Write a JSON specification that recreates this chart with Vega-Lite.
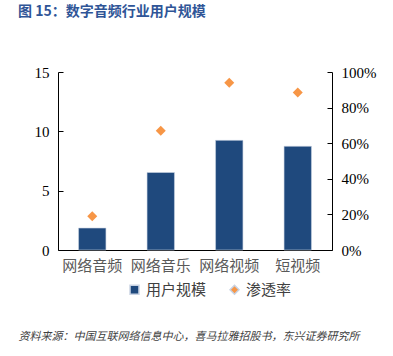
{
  "$schema": "https://vega.github.io/schema/vega-lite/v6.json",
  "width": 274,
  "height": 178,
  "autosize": {"type": "none"},
  "padding": {"left": 58, "top": 72, "right": 61, "bottom": 106},
  "background": "white",
  "config": {
    "view": {"stroke": null},
    "axisY": {"labelFont": "Liberation Serif", "labelFontSize": 15}
  },
  "title": {
    "text": "图 15：数字音频行业用户规模",
    "anchor": "start",
    "frame": "group",
    "dx": -40,
    "offset": 46,
    "font": "Noto Sans CJK SC",
    "fontSize": 14,
    "fontWeight": "bold",
    "color": "#2f5597"
  },
  "data": {
    "values": [
      {"category": "网络音频", "users": 1.85, "rate": 0.19},
      {"category": "网络音乐", "users": 6.53, "rate": 0.67},
      {"category": "网络视频", "users": 9.24, "rate": 0.94},
      {"category": "短视频", "users": 8.74, "rate": 0.885}
    ]
  },
  "encoding": {
    "x": {
      "field": "category",
      "type": "nominal",
      "sort": null,
      "scale": {"paddingInner": 0.6, "paddingOuter": 0.3},
      "axis": {
        "title": "资料来源：中国互联网络信息中心，喜马拉雅招股书，东兴证券研究所",
        "titleFont": "Noto Sans CJK SC",
        "titleFontSize": 11,
        "titleFontStyle": "italic",
        "titleFontWeight": "normal",
        "titleColor": "#404040",
        "titleAnchor": "start",
        "titleAlign": "left",
        "titleBaseline": "middle",
        "titleX": -40,
        "titleY": 86,
        "labelAngle": 0,
        "labelFont": "Noto Sans CJK SC",
        "labelFontSize": 15,
        "labelColor": "#595959",
        "labelPadding": 8,
        "ticks": false,
        "domainColor": "#000000",
        "domainWidth": 1
      }
    }
  },
  "layer": [
    {
      "mark": {"type": "bar", "stroke": "#c9d3e3", "strokeWidth": 0.6},
      "encoding": {
        "y": {
          "field": "users",
          "type": "quantitative",
          "scale": {"domain": [0, 15], "nice": false},
          "axis": {
            "title": null,
            "values": [0, 5, 10, 15],
            "grid": false,
            "tickSize": -5,
            "labelPadding": 14,
            "labelColor": "#000000",
            "domainColor": "#000000",
            "tickColor": "#000000"
          }
        },
        "color": {
          "datum": "用户规模",
          "scale": {"domain": ["用户规模", "渗透率"], "range": ["#1f497d", "#f79646"]},
          "legend": {
            "title": null,
            "orient": "none",
            "legendX": 69,
            "legendY": 210,
            "direction": "horizontal",
            "columns": 2,
            "labelFont": "Noto Sans CJK SC",
            "labelFontSize": 15,
            "labelColor": "#404040",
            "symbolSize": 80,
            "columnPadding": 20,
            "labelOffset": 4
          }
        }
      }
    },
    {
      "mark": {"type": "point", "filled": true, "size": 100, "opacity": 1},
      "encoding": {
        "y": {
          "field": "rate",
          "type": "quantitative",
          "scale": {"domain": [0, 1], "nice": false},
          "axis": {
            "title": null,
            "orient": "right",
            "format": ".0%",
            "values": [0, 0.2, 0.4, 0.6, 0.8, 1],
            "grid": false,
            "tickSize": -5,
            "labelPadding": 14,
            "labelColor": "#000000",
            "domainColor": "#000000",
            "tickColor": "#000000"
          }
        },
        "color": {"datum": "渗透率"},
        "shape": {
          "datum": "渗透率",
          "scale": {"domain": ["用户规模", "渗透率"], "range": ["square", "diamond"]}
        }
      }
    }
  ],
  "resolve": {"scale": {"y": "independent"}}
}
